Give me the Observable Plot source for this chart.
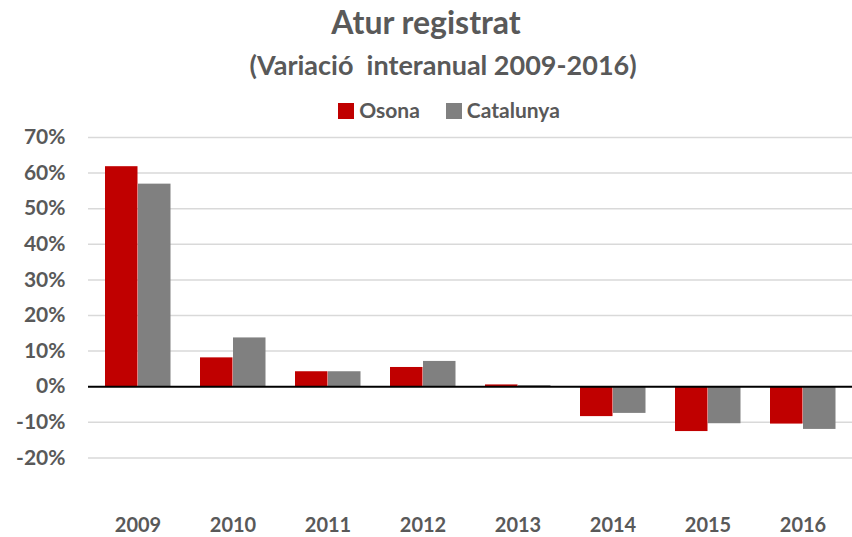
<!DOCTYPE html>
<html>
<head>
<meta charset="utf-8">
<script src="https://cdn.jsdelivr.net/npm/d3@7"></script>
<script src="https://cdn.jsdelivr.net/npm/@observablehq/plot@0.6"></script>
<style>
  html, body { margin: 0; padding: 0; background: #fff; }
  body { width: 852px; height: 537px; overflow: hidden; font-family: Lato, "Open Sans", sans-serif; color: #595959; position: relative; }
  #title { position: absolute; top: 3px; left: 0; width: 852px; text-align: center; font-weight: bold; font-size: 32px; line-height: 38px; z-index: 2; }
  #subtitle { position: absolute; top: 49px; left: 17px; width: 852px; text-align: center; font-weight: bold; font-size: 27px; line-height: 32px; z-index: 2; }
  #legend { position: absolute; top: 97px; left: 23px; width: 852px; text-align: center; font-weight: bold; font-size: 21px; line-height: 26px; z-index: 2; }
  #legend span.item { display: inline-block; margin: 0 13px; }
  #legend span.sw { display: inline-block; width: 16px; height: 16px; vertical-align: -1px; margin-right: 5px; }
  #chart { position: absolute; top: 105px; left: 0; z-index: 1; }
</style>
</head>
<body>
<div id="title">Atur registrat</div>
<div id="subtitle">(Variació&nbsp; interanual 2009-2016)</div>
<div id="legend"></div>
<div id="chart"></div>
<script>
const years = ["2009", "2010", "2011", "2012", "2013", "2014", "2015", "2016"];
const seriesNames = ["Osona", "Catalunya"];
const seriesColors = ["#C00000", "#808080"];
const osona = [0.618, 0.081, 0.042, 0.054, 0.005, -0.084, -0.126, -0.105];
const catalunya = [0.569, 0.137, 0.042, 0.071, 0.003, -0.075, -0.104, -0.120];
const yTicks = [-0.2, -0.1, 0, 0.1, 0.2, 0.3, 0.4, 0.5, 0.6, 0.7];

const dataOsona = years.map((y, i) => ({year: y, value: osona[i]}));
const dataCat = years.map((y, i) => ({year: y, value: catalunya[i]}));

const legend = document.getElementById("legend");
seriesNames.forEach((n, i) => {
  const it = document.createElement("span");
  it.className = "item";
  it.innerHTML = `<span class="sw" style="background:${seriesColors[i]}"></span>${n}`;
  legend.appendChild(it);
});

const chart = Plot.plot({
  width: 852,
  height: 432,
  marginLeft: 88,
  marginRight: 0,
  marginTop: 32,
  marginBottom: 44,
  style: {fontFamily: "Lato, 'Open Sans', sans-serif", fontWeight: "bold", fontSize: "20px", color: "#595959", background: "transparent"},
  x: {domain: years, padding: 0, label: null, tickSize: 0, tickPadding: 24},
  y: {domain: [-0.3, 0.7], ticks: yTicks, tickFormat: d => Math.round(d * 100) + "%", label: null, tickSize: 0, tickPadding: 23},
  marks: [
    Plot.ruleY(yTicks.filter(d => d !== 0), {stroke: "#d9d9d9", strokeWidth: 1.5}),
    Plot.barY(dataOsona, {x: "year", y: "value", fill: seriesColors[0], insetLeft: 15, insetRight: 47.5}),
    Plot.barY(dataCat, {x: "year", y: "value", fill: seriesColors[1], insetLeft: 48, insetRight: 14.5}),
    Plot.ruleY([0], {stroke: "#000", strokeWidth: 2})
  ]
});
chart.querySelectorAll("text").forEach(t => t.setAttribute("fill", "#595959"));
chart.querySelectorAll("g[aria-label='y-axis tick label']").forEach(g => g.setAttribute("font-size", "21"));
document.getElementById("chart").appendChild(chart);
</script>
</body>
</html>
